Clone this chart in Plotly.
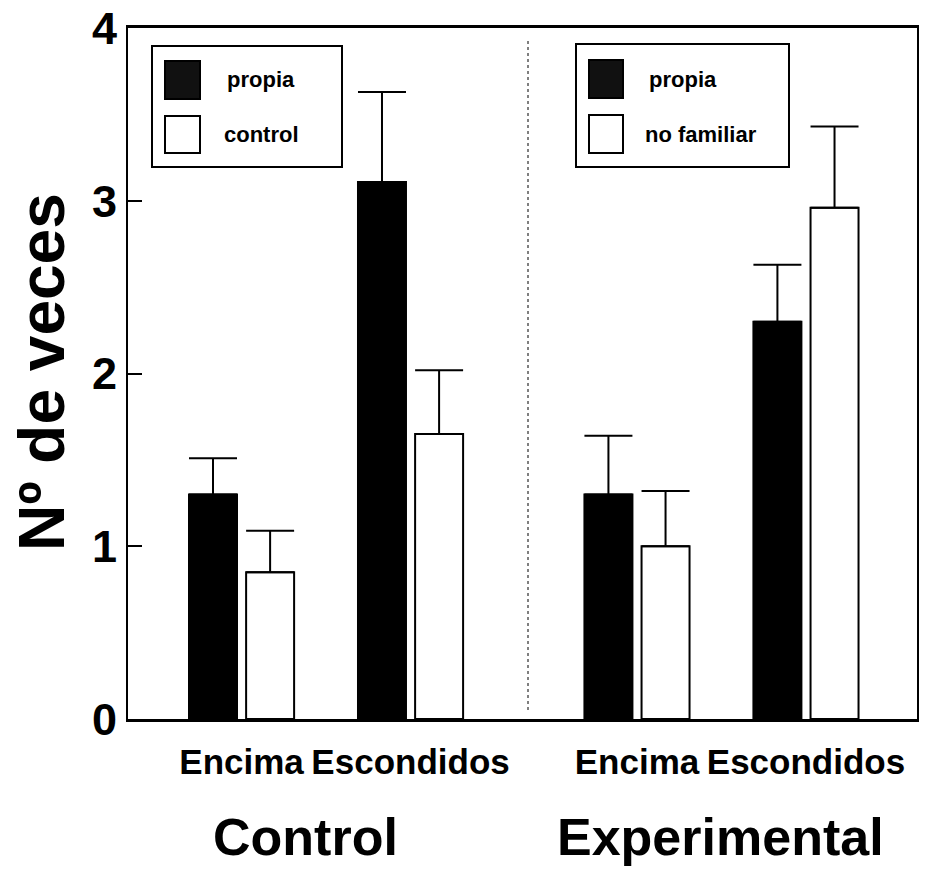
import plotly.graph_objects as go

# ---------------- data ----------------
conditions = ["Encima", "Escondidos"]
group_names = ["Control", "Experimental"]
group_x = {"Control": [0.0, 1.0], "Experimental": [2.34, 3.34]}

control_propia = [1.30, 3.11]
control_propia_err = [0.21, 0.52]
control_control = [0.85, 1.65]
control_control_err = [0.24, 0.37]

exp_propia = [1.30, 2.30]
exp_propia_err = [0.34, 0.33]
exp_nofamiliar = [1.00, 2.96]
exp_nofamiliar_err = [0.32, 0.47]

y_ticks = [0, 1, 2, 3, 4]

# ---------------- layout helpers ----------------
W, H = 930, 873
L, R, T, B = 128, 13, 28, 154
PW, PH = W - L - R, H - T - B

def px(x):
    return (x - L) / PW

def py(y):
    return (H - B - y) / PH

FONT = "Liberation Sans, Arial, Helvetica, sans-serif"

BAR_W = 0.284
OFF_L = -0.311
OFF_R = 0.027

def bar(name, x, y, err, color, offset):
    return go.Bar(
        name=name, x=x, y=y, width=BAR_W, offset=offset,
        marker=dict(color=color, line=dict(color="black", width=2)),
        error_y=dict(type="data", array=err, arrayminus=[0] * len(err), symmetric=False,
                     color="black", thickness=2, width=24),
        showlegend=False,
    )

fig = go.Figure()
fig.add_trace(bar("propia", group_x["Control"], control_propia, control_propia_err, "black", OFF_L))
fig.add_trace(bar("control", group_x["Control"], control_control, control_control_err, "white", OFF_R))
fig.add_trace(bar("propia", group_x["Experimental"], exp_propia, exp_propia_err, "black", OFF_L))
fig.add_trace(bar("no familiar", group_x["Experimental"], exp_nofamiliar, exp_nofamiliar_err, "white", OFF_R))

tickvals = group_x["Control"] + group_x["Experimental"]
ticktext = conditions + conditions

shapes = []
annotations = []

# dotted separator between groups
shapes.append(dict(type="line", xref="paper", yref="paper", x0=px(528), x1=px(528),
                   y0=py(710), y1=py(40), line=dict(color="black", width=1, dash="dot")))

# legend boxes (drawn manually to match the large swatches)
def legend_box(x0, x1, y0, y1, sw_x0, sw_x1, items):
    shapes.append(dict(type="rect", xref="paper", yref="paper", x0=px(x0), x1=px(x1),
                       y0=py(y1), y1=py(y0), line=dict(color="black", width=2),
                       fillcolor="white", layer="above"))
    for (label, color, sy0, sy1, tx) in items:
        shapes.append(dict(type="rect", xref="paper", yref="paper", x0=px(sw_x0), x1=px(sw_x1),
                           y0=py(sy1), y1=py(sy0), line=dict(color="black", width=2),
                           fillcolor=color, layer="above"))
        annotations.append(dict(x=px(tx), y=py((sy0 + sy1) / 2), xref="paper", yref="paper",
                                text=label, showarrow=False, xanchor="left", yanchor="middle",
                                font=dict(family=FONT, size=22, color="black", weight="bold")))

legend_box(152, 342, 46, 167, 165, 200,
           [("propia", "#111111", 61, 99, 225), ("control", "white", 116, 153, 222)])
legend_box(576, 789, 44, 167, 589, 623,
           [("propia", "#111111", 60, 98, 647), ("no familiar", "white", 115, 153, 643)])

# group titles
annotations.append(dict(x=px(305), y=py(837), xref="paper", yref="paper", text=group_names[0],
                        showarrow=False, xanchor="center", yanchor="middle",
                        font=dict(family=FONT, size=52, color="black", weight="bold")))
annotations.append(dict(x=px(720), y=py(837), xref="paper", yref="paper", text=group_names[1],
                        showarrow=False, xanchor="center", yanchor="middle",
                        font=dict(family=FONT, size=52, color="black", weight="bold")))

# y title
annotations.append(dict(x=px(42), y=py(372), xref="paper", yref="paper", text="Nº de veces",
                        textangle=-90, showarrow=False, xanchor="center", yanchor="middle",
                        font=dict(family=FONT, size=64, color="black", weight="bold")))

fig.update_layout(
    width=W, height=H,
    margin=dict(l=L, r=R, t=T, b=B, pad=0),
    paper_bgcolor="white", plot_bgcolor="white",
    barmode="overlay",
    shapes=shapes, annotations=annotations,
    showlegend=False,
    xaxis=dict(range=[-0.672, 3.997], tickvals=tickvals, ticktext=ticktext, tickangle=0,
               showline=True, linecolor="black", linewidth=3, mirror=True, automargin=False,
               ticks="", showgrid=False, zeroline=False,
               tickfont=dict(family=FONT, size=35, color="black", weight="bold"),
               ticklabelstandoff=10),
    yaxis=dict(range=[0, 4.001], tickvals=y_ticks, ticks="inside", ticklen=14, tickwidth=2,
               tickcolor="black", showline=True, linecolor="black", linewidth=2, mirror=True,
               showgrid=False, zeroline=False, automargin=False,
               tickfont=dict(family=FONT, size=45, color="black", weight="bold"),
               ticklabelstandoff=0),
)

fig.write_html("out.html")
